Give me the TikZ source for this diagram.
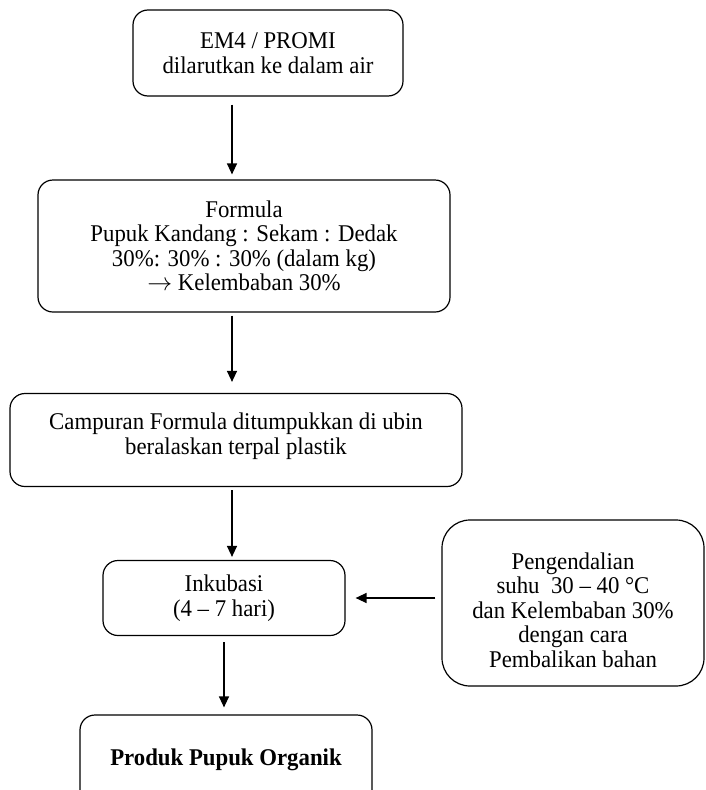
\documentclass[tikz,border=0pt]{standalone}
\usepackage{fontspec}
\setmainfont{Liberation Serif}[FakeStretch=0.95]
\usetikzlibrary{arrows.meta}
\tikzset{
  box/.style={draw,rounded corners=15pt,line width=1.2pt,align=center,inner sep=0pt},
  arr/.style={->,line width=1.3pt,shorten <=6pt,shorten >=5pt},
}
\begin{document}
\begin{tikzpicture}[x=1pt,y=-1pt,>={Triangle[length=11pt,width=10pt]},
  font=\fontsize{24}{24.5}\selectfont]
\clip (0,0) rectangle (705,790);
% boxes
\node[box,minimum width=270pt,minimum height=86pt] (em4) at (268,53)
  {EM4 / PROMI\\dilarutkan ke dalam air};
\node[box,minimum width=412pt,minimum height=132pt] (formula) at (244,246)
  {Formula\\Pupuk Kandang : Sekam : Dedak\\30\%: 30\% : 30\% (dalam kg)\\$\rightarrow$ Kelembaban 30\%};
\node[box,minimum width=452pt,minimum height=93pt] (campur) at (236,440)
  {Campuran Formula ditumpukkan di ubin\\beralaskan terpal plastik\\[-12pt]};
\node[box,minimum width=242pt,minimum height=75pt] (inkubasi) at (224,598)
  {Inkubasi\\(4 – 7 hari)};
\node[box,rounded corners=28pt,minimum width=262pt,minimum height=166pt] (kendali) at (573,603)
  {Pengendalian\\suhu\ \ 30 – 40 °C\\dan Kelembaban 30\%\\dengan cara\\Pembalikan bahan\\[-38pt]};
\node[box,minimum width=292pt,minimum height=90pt] (produk) at (226,760)
  {\textbf{Produk Pupuk Organik}};
% arrows
\coordinate (spine) at (232,0);
\draw[arr,shorten <=8pt] (em4.south -| spine) -- (formula.north -| spine);
\draw[arr,shorten <=3pt,shorten >=11pt] (formula.south -| spine) -- (campur.north -| spine);
\draw[arr,shorten <=3pt,shorten >=3pt] (campur.south -| spine) -- (inkubasi.north -| spine);
\draw[arr,shorten >=10pt] (kendali.west |- inkubasi.east) -- (inkubasi.east);
\draw[arr,shorten >=7pt] (inkubasi.south) -- (produk.north -| inkubasi.south);
\end{tikzpicture}
\end{document}
